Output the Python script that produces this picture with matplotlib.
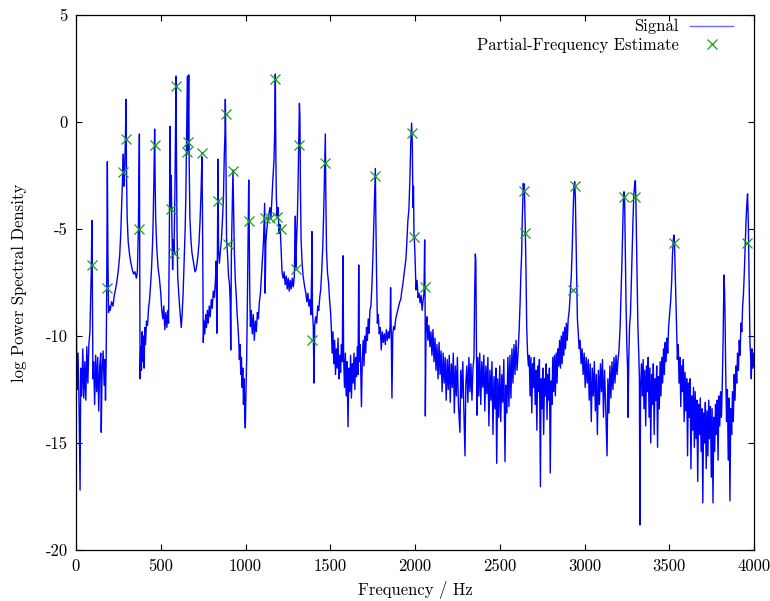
import matplotlib
matplotlib.use("Agg")
import matplotlib.pyplot as plt

# log power spectral density (Hz, value)
signal = [
    (0, -20.0), (1, -8.5), (6, -12.5), (12, -10.8), (18, -13.2), (24, -17.2), (28, -11.5),
    (34, -12.8), (40, -10.6), (46, -12.9), (52, -11.2), (58, -13.0), (64, -10.5), (70, -12.2),
    (76, -10.4), (82, -9.8), (86, -8.5), (90, -7.0), (94, -4.6), (97, -8.5), (100, -12.0),
    (104, -11.2), (110, -13.2), (116, -10.9), (122, -12.6), (128, -11.0), (134, -13.5),
    (140, -11.4), (146, -10.8), (149, -14.5), (154, -11.6), (160, -10.7), (166, -12.3),
    (170, -11.1), (174, -13.0), (178, -11.0), (181, -8.0), (185, -1.85), (188, -6.0),
    (192, -8.9), (196, -8.6), (202, -8.8), (210, -8.4), (218, -8.6), (226, -8.1), (234, -7.8),
    (242, -7.4), (250, -6.9), (258, -6.2), (264, -5.2), (270, -3.8), (275, -2.5), (279, -1.5),
    (283, -3.0), (288, -2.0), (292, -0.5), (295, 1.06), (298, -2.5), (302, -4.5), (308, -5.6),
    (316, -6.2), (324, -6.6), (332, -6.9), (340, -7.1), (348, -7.0), (356, -7.3), (362, -7.0),
    (368, -5.0), (372, -2.0), (374, -0.56), (376, -6.0), (378, -12.0), (382, -10.5),
    (386, -11.6), (390, -9.8), (394, -11.2), (398, -10.0), (402, -11.5), (406, -9.6),
    (410, -10.4), (416, -9.3), (422, -9.5), (428, -8.7), (434, -8.3), (440, -7.6), (446, -6.8),
    (452, -5.6), (456, -4.3), (460, -2.5), (464, -0.33), (467, -2.8), (470, -4.5), (476, -5.8),
    (484, -6.8), (492, -7.3), (500, -8.0), (506, -8.8), (512, -9.2), (518, -8.6), (524, -9.7),
    (530, -8.9), (536, -9.6), (542, -8.8), (546, -9.4), (550, -6.0), (553, -2.4), (555, -0.2),
    (558, -4.0), (562, -2.5), (566, -5.0), (570, -6.9), (574, -5.5), (578, -6.2), (584, -3.0),
    (588, 0.5), (590, 2.15), (593, -2.0), (596, -5.0), (600, -7.2), (606, -8.0), (612, -8.7),
    (618, -9.3), (621, -9.6), (626, -9.0), (632, -8.0), (638, -6.5), (644, -5.0), (648, -3.5),
    (652, -1.0), (657, 2.15), (660, -1.5), (665, 2.2), (668, -2.0), (672, -4.5), (678, -5.5),
    (684, -6.1), (690, -6.4), (696, -6.7), (702, -7.0), (708, -6.9), (714, -6.6), (720, -6.2),
    (726, -5.6), (732, -4.6), (738, -3.2), (743, -1.62), (746, -4.0), (749, -7.5),
    (751, -10.3), (755, -9.3), (760, -9.9), (765, -9.0), (770, -9.6), (775, -8.8), (780, -9.4),
    (786, -8.6), (792, -9.1), (798, -8.3), (804, -8.7), (810, -7.9), (816, -8.2), (822, -7.5),
    (827, -6.5), (831, -9.87), (835, -5.0), (838, -1.74), (841, -6.0), (846, -6.6), (852, -6.0),
    (858, -5.5), (864, -4.6), (870, -3.5), (875, -1.5), (879, -0.5), (881, 1.06), (884, -1.0),
    (888, -5.4), (894, -6.2), (900, -7.2), (906, -7.6), (910, -8.5), (913, -10.65), (917, -6.0),
    (922, -4.0), (926, -2.24), (930, -4.0), (934, -6.0), (940, -7.4), (946, -8.2), (950, -8.9),
    (955, -9.5), (960, -10.2), (964, -11.1), (968, -10.4), (972, -11.8), (976, -11.0),
    (980, -12.4), (984, -11.5), (988, -13.2), (992, -12.0), (996, -13.8), (999, -14.3),
    (1003, -12.5), (1007, -11.0), (1011, -8.5), (1015, -5.5), (1019, -2.71), (1022, -5.0),
    (1025, -8.0), (1029, -9.56), (1034, -8.8), (1040, -9.9), (1046, -9.0), (1052, -10.2),
    (1058, -9.3), (1064, -9.8), (1070, -8.9), (1076, -9.2), (1082, -8.4), (1088, -8.0),
    (1094, -7.2), (1100, -6.4), (1106, -5.6), (1110, -4.6), (1113, -3.8), (1116, -8.0),
    (1120, -5.6), (1126, -5.0), (1132, -4.6), (1138, -4.3), (1144, -4.0), (1150, -4.5),
    (1156, -3.5), (1162, -2.6), (1168, -1.8), (1172, -0.5), (1176, 2.24), (1179, -1.5),
    (1182, -3.5), (1186, -4.4), (1192, -4.0), (1198, -5.2), (1204, -4.8), (1208, -5.6),
    (1213, -6.5), (1216, -7.06), (1222, -7.3), (1228, -7.0), (1234, -7.6), (1240, -7.2),
    (1246, -7.8), (1252, -7.3), (1258, -7.9), (1264, -7.4), (1270, -7.8), (1276, -7.3),
    (1282, -7.7), (1288, -7.2), (1294, -4.4), (1297, -6.8), (1300, -5.8), (1306, -4.5),
    (1310, -3.0), (1314, -1.0), (1318, 0.87), (1321, 0.3), (1324, -3.0), (1328, -5.5),
    (1334, -6.6), (1340, -7.2), (1349, -7.7), (1356, -8.0), (1362, -8.4), (1368, -8.0),
    (1374, -8.6), (1380, -8.3), (1386, -9.0), (1390, -7.0), (1392, -5.12), (1395, -8.8),
    (1400, -9.6), (1404, -12.2), (1408, -9.5), (1414, -9.1), (1420, -9.4), (1426, -8.6),
    (1432, -8.8), (1438, -8.2), (1444, -7.8), (1450, -6.9), (1456, -5.8), (1462, -4.0),
    (1467, -2.0), (1471, -0.56), (1474, -3.5), (1478, -6.0), (1484, -7.06), (1490, -7.5),
    (1496, -8.3), (1502, -8.9), (1506, -9.56), (1511, -10.8), (1516, -9.8), (1521, -11.3),
    (1526, -10.2), (1531, -11.8), (1536, -10.6), (1541, -11.5), (1546, -10.1), (1551, -12.0),
    (1556, -10.9), (1561, -11.7), (1566, -10.4), (1571, -11.2), (1575, -6.25), (1579, -11.0),
    (1584, -12.4), (1589, -10.8), (1594, -12.8), (1599, -11.2), (1605, -14.24), (1610, -11.5),
    (1615, -12.6), (1620, -10.9), (1625, -12.9), (1630, -11.3), (1635, -12.2), (1640, -10.8),
    (1645, -12.5), (1650, -11.0), (1655, -11.9), (1660, -10.5), (1664, -11.8), (1668, -6.68),
    (1672, -11.2), (1677, -10.4), (1684, -13.3), (1689, -11.1), (1694, -10.2), (1699, -11.4),
    (1704, -10.0), (1709, -10.8), (1714, -9.6), (1719, -10.2), (1724, -9.2), (1729, -9.87),
    (1734, -8.8), (1740, -8.6), (1746, -7.6), (1752, -6.2), (1757, -4.8), (1761, -3.5),
    (1766, -2.17), (1769, -4.5), (1773, -7.0), (1778, -9.4), (1783, -9.0), (1789, -9.9),
    (1795, -9.6), (1801, -10.65), (1807, -9.8), (1813, -10.3), (1819, -9.9), (1825, -10.4),
    (1831, -9.7), (1837, -10.2), (1843, -9.8), (1849, -10.1), (1853, -9.5), (1856, -7.74),
    (1860, -10.0), (1864, -12.9), (1869, -9.9), (1874, -9.56), (1880, -9.7), (1886, -9.2),
    (1892, -9.0), (1898, -8.8), (1904, -8.6), (1910, -8.4), (1916, -8.3), (1922, -7.9),
    (1928, -7.6), (1934, -7.2), (1940, -6.8), (1946, -6.45), (1952, -5.6), (1958, -4.6),
    (1964, -4.1), (1970, -2.6), (1975, -1.0), (1980, -0.05), (1984, -1.0), (1988, -4.0),
    (1991, -3.0), (1994, -5.2), (1999, -6.0), (2006, -7.85), (2012, -7.4), (2018, -8.2),
    (2024, -8.0), (2030, -8.45), (2036, -8.1), (2042, -8.8), (2048, -8.3), (2053, -8.0),
    (2057, -5.51), (2060, -9.0), (2061, -13.74), (2065, -9.6), (2070, -9.1), (2076, -10.2),
    (2082, -9.5), (2088, -10.5), (2094, -9.8), (2100, -10.9), (2106, -9.7), (2112, -11.2),
    (2118, -10.1), (2124, -11.6), (2130, -10.4), (2136, -12.0), (2142, -10.3), (2148, -11.8),
    (2154, -10.7), (2160, -12.6), (2166, -10.8), (2172, -12.2), (2178, -11.0), (2184, -13.0),
    (2190, -11.1), (2196, -12.5), (2202, -10.9), (2208, -13.1), (2214, -11.3), (2220, -12.4),
    (2226, -10.8), (2232, -13.6), (2238, -11.4), (2244, -12.8), (2250, -11.0), (2256, -13.2),
    (2265, -14.5), (2270, -11.6), (2276, -12.9), (2282, -11.2), (2288, -13.4), (2295, -15.6),
    (2300, -12.2), (2306, -11.4), (2312, -13.1), (2318, -11.0), (2324, -12.6), (2330, -11.3),
    (2336, -13.0), (2342, -11.5), (2348, -11.0), (2352, -8.0), (2356, -6.17), (2359, -6.5),
    (2362, -10.0), (2366, -13.7), (2371, -11.0), (2376, -12.8), (2382, -10.8), (2388, -13.2),
    (2394, -11.2), (2400, -12.4), (2406, -10.9), (2412, -13.5), (2418, -11.4), (2424, -12.7),
    (2430, -11.0), (2436, -14.2), (2442, -11.6), (2448, -13.0), (2454, -11.2), (2460, -14.6),
    (2466, -11.9), (2472, -13.4), (2477, -11.5), (2482, -15.95), (2488, -12.0), (2494, -13.8),
    (2500, -11.4), (2506, -14.0), (2512, -11.8), (2518, -13.1), (2524, -11.1), (2531, -15.87),
    (2536, -12.3), (2542, -13.6), (2548, -11.0), (2554, -13.3), (2560, -10.9), (2566, -12.9),
    (2572, -10.6), (2578, -12.2), (2584, -10.4), (2590, -11.8), (2596, -10.2), (2602, -11.6),
    (2608, -10.8), (2614, -9.8), (2620, -8.45), (2625, -7.0), (2629, -6.2), (2633, -4.5),
    (2639, -2.87), (2642, -3.2), (2645, -2.9), (2648, -4.0), (2651, -5.2), (2655, -7.0),
    (2659, -9.56), (2664, -10.8), (2669, -11.4), (2674, -10.9), (2679, -12.8), (2684, -11.0),
    (2689, -13.6), (2694, -11.3), (2699, -12.4), (2704, -11.0), (2709, -13.2), (2714, -11.6),
    (2719, -14.4), (2724, -11.4), (2729, -12.6), (2734, -11.1), (2740, -17.04), (2744, -12.0),
    (2749, -13.4), (2754, -11.5), (2759, -14.6), (2764, -12.0), (2769, -12.8), (2774, -11.3),
    (2779, -13.9), (2784, -11.8), (2789, -13.0), (2793, -11.5), (2798, -16.4), (2803, -12.1),
    (2808, -13.2), (2813, -11.0), (2818, -12.6), (2823, -10.9), (2828, -12.8), (2833, -10.8),
    (2838, -12.2), (2843, -10.6), (2848, -11.4), (2853, -10.2), (2858, -11.5), (2863, -10.0),
    (2868, -11.3), (2873, -9.8), (2878, -10.9), (2883, -9.6), (2888, -10.6), (2893, -9.4),
    (2898, -10.2), (2904, -9.2), (2910, -8.8), (2916, -8.0), (2922, -7.2), (2928, -5.8),
    (2933, -4.2), (2938, -3.0), (2942, -2.79), (2946, -3.5), (2950, -5.5), (2954, -7.4),
    (2958, -9.2), (2963, -9.8), (2968, -10.6), (2974, -10.2), (2980, -11.3), (2986, -10.6),
    (2992, -11.8), (2998, -10.8), (3004, -12.4), (3010, -11.0), (3016, -12.2), (3022, -11.1),
    (3028, -13.0), (3034, -11.3), (3040, -14.0), (3046, -11.5), (3052, -12.8), (3058, -11.2),
    (3064, -13.5), (3070, -11.8), (3076, -14.6), (3082, -11.6), (3088, -13.2), (3094, -11.3),
    (3100, -12.6), (3106, -11.1), (3112, -13.8), (3118, -11.6), (3124, -13.0), (3133, -15.6),
    (3138, -12.0), (3144, -13.6), (3150, -11.4), (3156, -12.9), (3162, -11.2), (3168, -12.5),
    (3174, -11.0), (3180, -12.2), (3186, -10.9), (3192, -11.8), (3198, -11.1), (3204, -10.6),
    (3210, -9.6), (3216, -8.0), (3221, -6.5), (3226, -4.8), (3230, -3.5), (3233, -3.26),
    (3237, -3.8), (3241, -6.0), (3245, -8.5), (3250, -10.5), (3254, -11.5), (3257, -13.8),
    (3261, -11.2), (3266, -9.5), (3271, -9.0), (3276, -7.6), (3281, -6.0), (3286, -4.6),
    (3291, -3.4), (3296, -2.9), (3300, -2.74), (3303, -3.6), (3307, -5.5), (3311, -7.6),
    (3315, -9.56), (3320, -10.8), (3324, -12.0), (3327, -18.83), (3331, -12.4), (3336, -11.3),
    (3341, -12.8), (3346, -11.1), (3351, -13.4), (3356, -11.6), (3361, -14.2), (3366, -11.4),
    (3371, -12.6), (3376, -11.0), (3381, -13.8), (3386, -11.5), (3391, -15.0), (3396, -11.8),
    (3401, -13.2), (3406, -11.3), (3411, -14.6), (3416, -12.0), (3421, -13.0), (3426, -11.4),
    (3431, -15.2), (3436, -11.9), (3441, -13.4), (3446, -11.2), (3451, -12.8), (3456, -11.0),
    (3461, -12.2), (3466, -10.6), (3471, -11.8), (3476, -10.3), (3481, -11.2), (3486, -10.1),
    (3491, -10.8), (3496, -9.6), (3502, -9.0), (3508, -8.4), (3514, -7.5), (3519, -6.2),
    (3524, -5.5), (3528, -5.28), (3531, -5.7), (3535, -7.0), (3539, -8.5), (3543, -9.56),
    (3548, -11.1), (3553, -10.4), (3558, -12.2), (3563, -11.0), (3568, -13.3), (3573, -11.4),
    (3578, -12.6), (3583, -11.1), (3588, -14.0), (3593, -11.7), (3598, -13.5), (3603, -12.0),
    (3608, -15.6), (3613, -12.2), (3618, -13.8), (3623, -12.0), (3628, -16.2), (3633, -12.8),
    (3638, -14.4), (3643, -12.4), (3648, -15.2), (3653, -12.6), (3658, -14.8), (3663, -13.0),
    (3668, -16.8), (3673, -13.2), (3678, -14.6), (3683, -12.9), (3688, -15.4), (3693, -13.4),
    (3698, -17.8), (3703, -13.6), (3708, -15.0), (3713, -13.1), (3718, -16.2), (3723, -13.5),
    (3728, -15.6), (3733, -13.0), (3738, -14.8), (3743, -13.3), (3748, -16.6), (3753, -13.4),
    (3758, -17.8), (3763, -13.8), (3768, -15.4), (3773, -13.2), (3778, -14.6), (3783, -13.0),
    (3788, -15.8), (3793, -12.8), (3798, -14.2), (3803, -12.6), (3808, -13.8), (3813, -12.2),
    (3818, -10.0), (3823, -7.15), (3826, -7.8), (3829, -9.0), (3833, -11.6), (3838, -14.0),
    (3843, -12.5), (3848, -15.8), (3853, -12.9), (3858, -17.7), (3863, -13.4), (3868, -14.6),
    (3873, -12.6), (3878, -14.0), (3883, -11.8), (3888, -13.0), (3893, -11.4), (3898, -12.2),
    (3903, -10.8), (3908, -11.6), (3913, -10.2), (3918, -10.9), (3923, -9.4), (3928, -9.8),
    (3933, -8.6), (3938, -8.0), (3943, -7.0), (3948, -5.8), (3953, -4.6), (3958, -3.8),
    (3962, -3.36), (3966, -4.5), (3969, -6.0), (3972, -7.8), (3976, -10.3), (3980, -10.9),
    (3984, -12.0), (3988, -10.6), (3992, -11.5), (3996, -10.8), (4000, -11.4),
]
signal_freq = [p[0] for p in signal]
signal_logpsd = [p[1] for p in signal]

# partial-frequency estimates (green crosses)
est_freq = [94, 185, 279, 295, 374, 464, 558, 578, 590, 655, 661, 743, 838, 885, 897,
            928, 1023, 1113, 1147, 1176, 1184, 1208, 1298, 1318, 1392, 1471, 1766, 1980,
            1994, 2057, 2643, 2650, 2930, 2942, 3233, 3296, 3528, 3960]
est_logpsd = [-6.67, -7.76, -2.34, -0.78, -5.01, -1.09, -4.07, -6.10, 1.68, -1.40, -0.93,
              -1.45, -3.69, 0.37, -5.70, -2.27, -4.64, -4.49, -4.49, 2.03, -4.42, -5.01,
              -6.85, -1.06, -10.19, -1.93, -2.52, -0.53, -5.39, -7.73, -3.21, -5.17, -7.85,
              -2.99, -3.49, -3.49, -5.64, -5.64]

plt.rcParams['font.family'] = ['cmr10', 'DejaVu Serif']
plt.rcParams['axes.unicode_minus'] = False
plt.rcParams['font.size'] = 12

fig = plt.figure(figsize=(7.70, 6.01), dpi=100)
ax = fig.add_axes([76 / 770, 1 - 550 / 601, 678 / 770, 535 / 601])

ax.plot(signal_freq, signal_logpsd, color='#0000ff', lw=1.0, label='Signal')
ax.plot(est_freq, est_logpsd, ls='none', marker='x', ms=6.5, mew=0.9,
        color='#1c9a1c', label='Partial-Frequency Estimate')

ax.set_xlim(0, 4000)
ax.set_ylim(-20, 5)
ax.set_xticks(range(0, 4001, 500))
ax.set_yticks(range(-20, 6, 5))
ax.tick_params(direction='in', top=True, right=True, length=4.5, width=0.8, pad=6)
for sp in ax.spines.values():
    sp.set_linewidth(0.9)

ax.set_xlabel('Frequency / Hz', labelpad=5)
ax.set_ylabel('log Power Spectral Density', labelpad=13)

leg = ax.legend(loc='upper right', bbox_to_anchor=(0.982, 1.008), frameon=False,
                markerfirst=False, numpoints=1, handlelength=2.6, handletextpad=0.7,
                labelspacing=0.2, borderaxespad=0.2, borderpad=0.3)
leg.get_lines()[0].set_alpha(0.6)

fig.savefig('out.png', dpi=100)
